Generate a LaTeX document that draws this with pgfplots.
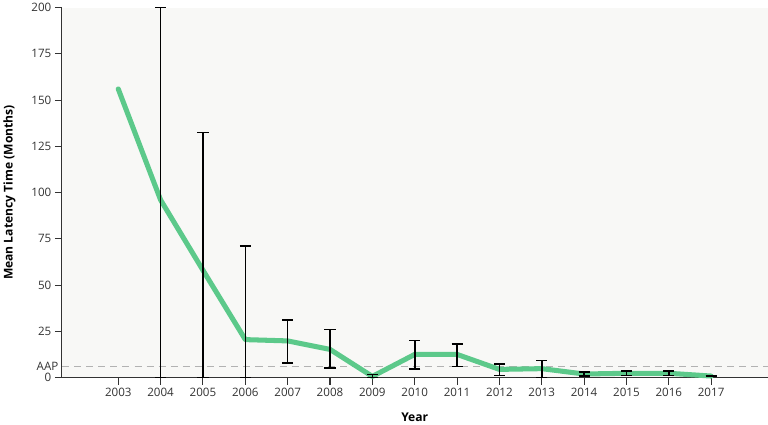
\documentclass[border=0pt]{standalone}
\usepackage{fontspec}
\setmainfont{Open Sans}
\usepackage{pgfplots}
\pgfplotsset{compat=1.18}
\usepackage{pgfplotstable}
\definecolor{lgreen}{HTML}{5CC98A}
\definecolor{bgc}{HTML}{F8F8F6}
\definecolor{axc}{HTML}{333333}
\pgfplotstableread{
x y
2003 156
2004 96
2005 58
2006 20.5
2007 19.8
2008 15.2
2009 0.6
2010 12.5
2011 12.5
2012 4.4
2013 4.8
2014 1.9
2015 2.3
2016 2.3
2017 0.8
}\meantable
\pgfplotstableread{
x y ep em
2004 96 104 96
2005 58 74.4 58
2006 20.5 50.5 20.5
2007 19.8 11.2 11.8
2008 15.2 10.8 10.2
2009 0.6 1.0 0.6
2010 12.5 7.5 8
2011 12.5 5.5 6.5
2012 4.4 2.8 3.4
2013 4.8 4.4 4.8
2014 1.9 1.2 1.0
2015 2.3 1.3 1.3
2016 2.3 1.3 1.3
2017 0.8 0.3 0.3
}\errtable
\begin{document}
\begin{tikzpicture}
\begin{axis}[
  scale only axis,
  width=700pt, height=367pt,
  xmin=2001.67, xmax=2018.33,
  ymin=0, ymax=200,
  axis lines*=left,
  axis line style={axc, line width=1pt},
  axis background/.style={fill=bgc},
  xtick={2003,2004,...,2017},
  ytick={0,25,...,200},
  extra y ticks={6},
  extra y tick labels={AAP},
  extra y tick style={major tick length=0pt, tick style={draw=none}},
  tick align=outside,
  major tick length=7pt,
  tick style={axc, line width=1pt},
  x tick label style={/pgf/number format/1000 sep={}},
  /pgf/number format/assume math mode=true,
  tick label style={font=\fontsize{11.5}{13}\selectfont, text=axc},
  xlabel={\textbf{Year}},
  ylabel={\textbf{Mean Latency Time (Months)}},
  label style={font=\fontsize{12}{14}\selectfont},
  xlabel style={yshift=-9pt},
  ylabel style={yshift=2pt},
  clip=false,
]
\addplot[gray!60, line width=1pt, dash pattern=on 7pt off 5pt, forget plot] coordinates {(2001.67,6) (2018.33,6)};
\addplot[lgreen, line width=5pt, line join=round, line cap=round, mark=none] table[x=x,y=y] {\meantable};
\addplot[draw=none, mark=none, forget plot,
  error bars/.cd, y dir=both, y explicit,
  error mark options={black, line width=1.6pt, mark size=5.5pt, rotate=90},
  error bar style={draw=black, solid, line width=1.6pt}]
  table[x=x, y=y, y error plus=ep, y error minus=em] {\errtable};
\end{axis}
\end{tikzpicture}
\end{document}
